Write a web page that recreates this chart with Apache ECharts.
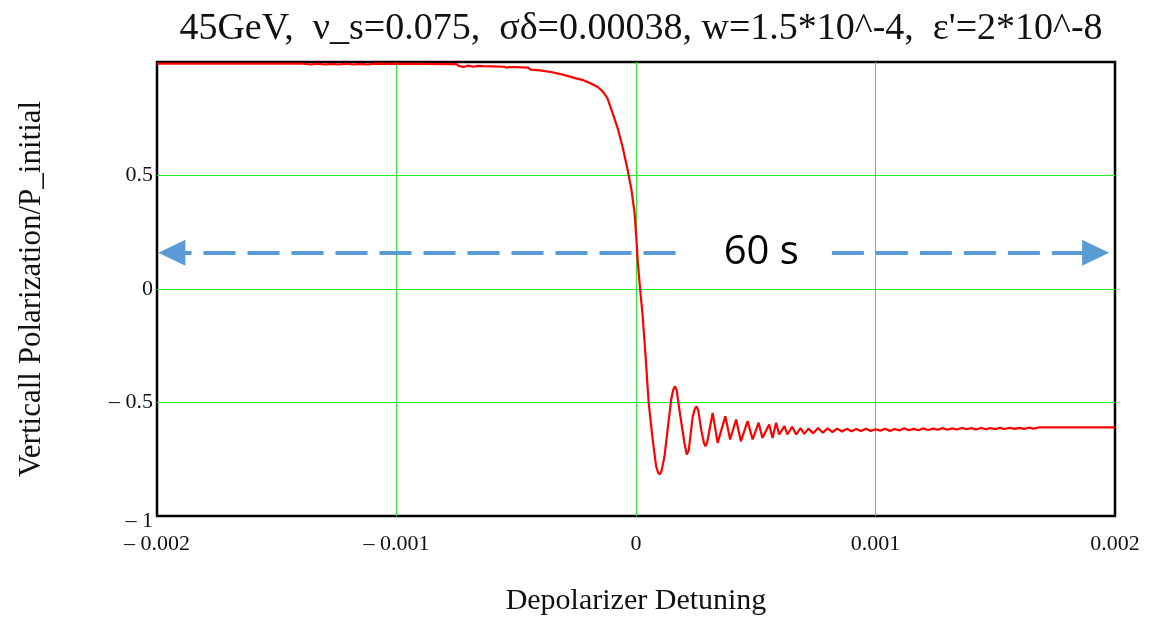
<!DOCTYPE html>
<html>
<head>
<meta charset="utf-8">
<title>Vertical polarization vs depolarizer detuning</title>
<script src="https://cdn.jsdelivr.net/npm/echarts@6/dist/echarts.min.js"></script>
<style>
  html, body { margin: 0; padding: 0; background: #fff; }
  #chart { width: 1155px; height: 621px; }
</style>
</head>
<body>
<div id="chart"></div>
<script>
// Depolarizer detuning (x) and vertical polarization normalised to P_initial (y)
const detuning = [
  -0.00200, -0.00180, -0.00160, -0.00139, -0.00136, -0.00133, -0.00130, -0.00127,
  -0.00124, -0.00121, -0.00118, -0.00115, -0.00112, -0.00109, -0.00090, -0.00075,
  -0.00074, -0.00072, -0.00070, -0.00068, -0.00066, -0.00064, -0.00060, -0.00055,
  -0.00054, -0.00053, -0.00050, -0.00045, -0.00044, -0.00040, -0.00035, -0.00032,
  -0.00029, -0.00025, -0.00022, -0.00019, -0.00016, -0.00014, -0.00012, -0.000098,
  -0.000077, -0.000056, -0.000035, -0.000019, -0.000006, 0.000002, 0.0000075, 0.0000175,
  0.000028, 0.000040, 0.000053, 0.000068, 0.000084, 0.000092, 0.000098, 0.000106,
  0.000119, 0.000132, 0.000147, 0.000155, 0.000163, 0.000170, 0.000181, 0.000202,
  0.000212, 0.000220, 0.000237, 0.000246, 0.000253, 0.000260, 0.000272, 0.000284,
  0.000290, 0.000297, 0.000320, 0.000341, 0.000373, 0.000393, 0.000418, 0.000438,
  0.000466, 0.000487, 0.000512, 0.000528, 0.000556, 0.000570, 0.000585, 0.000598,
  0.000620, 0.000632, 0.000652, 0.000669, 0.000687, 0.000703,
  0.00072, 0.00074, 0.00076, 0.00078, 0.00080, 0.00082, 0.00084, 0.00086,
  0.00088, 0.00090, 0.00092, 0.00094, 0.00096, 0.00098, 0.00100, 0.00102,
  0.00104, 0.00106, 0.00108, 0.00110, 0.00112, 0.00114, 0.00116, 0.00118,
  0.00120, 0.00122, 0.00124, 0.00126, 0.00128, 0.00130, 0.00132, 0.00134,
  0.00136, 0.00138, 0.00140, 0.00142, 0.00144, 0.00146, 0.00148, 0.00150,
  0.00152, 0.00154, 0.00156, 0.00158, 0.00160, 0.00162, 0.00164, 0.00166,
  0.00168, 0.00200
];

const polarization = [
  0.993, 0.993, 0.993, 0.993, 0.989, 0.993, 0.989, 0.992,
  0.989, 0.993, 0.989, 0.992, 0.989, 0.993, 0.992, 0.991,
  0.983, 0.978, 0.984, 0.979, 0.983, 0.982, 0.981, 0.979,
  0.975, 0.978, 0.977, 0.975, 0.966, 0.963, 0.955, 0.948,
  0.940, 0.928, 0.920, 0.906, 0.890, 0.872, 0.842, 0.776,
  0.710, 0.626, 0.525, 0.437, 0.336, 0.217, 0.116, -0.003,
  -0.121, -0.297, -0.502, -0.649, -0.781, -0.808, -0.817, -0.805,
  -0.737, -0.619, -0.487, -0.445, -0.429, -0.447, -0.531, -0.677,
  -0.729, -0.712, -0.561, -0.527, -0.517, -0.535, -0.619, -0.680,
  -0.693, -0.676, -0.546, -0.678, -0.561, -0.663, -0.575, -0.671,
  -0.582, -0.663, -0.589, -0.656, -0.597, -0.656, -0.589, -0.641,
  -0.604, -0.641, -0.607, -0.641, -0.613, -0.638,
  -0.615, -0.636, -0.612, -0.633, -0.614, -0.630, -0.615, -0.628,
  -0.616, -0.627, -0.617, -0.626, -0.616, -0.625, -0.618, -0.624,
  -0.616, -0.625, -0.617, -0.623, -0.613, -0.622, -0.616, -0.622,
  -0.614, -0.621, -0.615, -0.620, -0.613, -0.620, -0.614, -0.619,
  -0.612, -0.618, -0.613, -0.619, -0.612, -0.618, -0.613, -0.617,
  -0.612, -0.617, -0.611, -0.616, -0.612, -0.616, -0.611, -0.615,
  -0.610, -0.610
];

// Axis ticks
const xTicks = [-0.002, -0.001, 0, 0.001, 0.002];
const yTicks = [-1, -0.5, 0, 0.5, 1];

// Duration annotation: a two-headed dashed arrow with its label
const spanLabel = '60 s';
const spanLevel = 0.16;
const spanLeft = [-0.001938, 0.000165];   // arrow tip end, inner end
const spanRight = [0.000818, 0.001919];   // inner end, arrow tip end
const spanLabelAt = 0.000523;

const titleText = '45GeV,  \u03bd_s=0.075,  \u03c3\u03b4=0.00038, w=1.5*10^-4,  \u03b5\'=2*10^-8';

function fmtTick(v) {
  const s = String(Math.abs(v));
  return v < 0 ? '\u2013 ' + s : s;
}

const serif = '"Liberation Serif", "DejaVu Serif", serif';
const chart = echarts.init(document.getElementById('chart'), null, { renderer: 'canvas' });

chart.setOption({
  animation: false,
  backgroundColor: '#ffffff',
  title: {
    text: titleText,
    left: 636,
    textAlign: 'center',
    top: 5,
    textStyle: { fontFamily: serif, fontSize: 38, fontWeight: 'normal', color: '#111' }
  },
  grid: {
    left: 157, right: 40, top: 62, bottom: 104,
    show: true, borderColor: '#000', borderWidth: 2.5, backgroundColor: '#fff'
  },
  xAxis: {
    type: 'value',
    min: xTicks[0], max: xTicks[xTicks.length - 1], interval: 0.001,
    name: 'Depolarizer Detuning',
    nameLocation: 'middle', nameGap: 70,
    nameTextStyle: { fontFamily: serif, fontSize: 30, color: '#111' },
    axisLine: { show: false },
    axisTick: { show: false },
    axisLabel: {
      margin: 17,
      fontFamily: serif, fontSize: 22, color: '#111',
      formatter: function (v) { return fmtTick(Math.round(v * 1e4) / 1e4); }
    },
    splitLine: {
      show: true, showMinLine: false, showMaxLine: false,
      lineStyle: { color: '#22ee22', width: 1 }
    }
  },
  yAxis: {
    type: 'value',
    min: yTicks[0], max: yTicks[yTicks.length - 1], interval: 0.5,
    name: 'Verticall Polarization/P_initial',
    nameLocation: 'middle', nameGap: 110, nameRotate: 90,
    nameTextStyle: { fontFamily: serif, fontSize: 31, color: '#111' },
    axisLine: { show: false },
    axisTick: { show: false },
    axisLabel: {
      margin: 4,
      fontFamily: serif, fontSize: 22, color: '#111',
      formatter: function (v) {
        if (v === yTicks[yTicks.length - 1]) return '';
        if (v === yTicks[0]) return '{low|' + fmtTick(v) + '}';
        return fmtTick(v);
      },
      rich: { low: { fontFamily: serif, fontSize: 22, color: '#111', padding: [10, 0, 0, 0] } }
    },
    splitLine: {
      show: true, showMinLine: false, showMaxLine: false,
      lineStyle: { color: '#22ee22', width: 1 }
    }
  },
  series: [
    {
      name: 'P/P_initial',
      type: 'line',
      data: detuning.map(function (x, i) { return [x, polarization[i]]; }),
      showSymbol: false,
      symbol: 'none',
      lineStyle: { color: '#ff0000', width: 2.2 },
      z: 3
    },
    {
      name: 'span',
      type: 'line',
      data: [],
      z: 4,
      markLine: {
        silent: true,
        animation: false,
        label: { show: false },
        lineStyle: { color: '#5b9bd5', width: 4, type: [32, 12] },
        data: [
          [
            { coord: [spanLeft[1], spanLevel], symbol: 'none' },
            { coord: [spanLeft[0], spanLevel], symbol: 'triangle', symbolSize: [26, 27] }
          ],
          [
            { coord: [spanRight[0], spanLevel], symbol: 'none' },
            { coord: [spanRight[1], spanLevel], symbol: 'triangle', symbolSize: [26, 27] }
          ]
        ],
        emphasis: { disabled: true }
      },
      markPoint: {
        silent: true,
        symbol: 'circle',
        symbolSize: 1,
        itemStyle: { color: 'rgba(0,0,0,0)' },
        label: {
          show: true,
          position: 'inside',
          formatter: spanLabel,
          fontFamily: '"Open Sans", "Noto Sans", sans-serif',
          fontSize: 40,
          color: '#000'
        },
        data: [{ coord: [spanLabelAt, spanLevel] }]
      }
    }
  ]
});
</script>
</body>
</html>
